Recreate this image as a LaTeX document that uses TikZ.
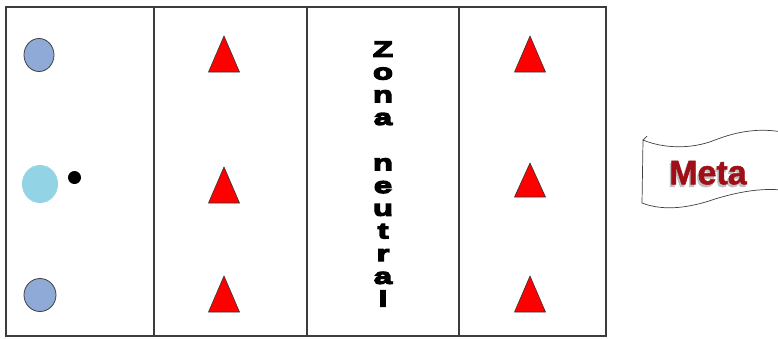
\documentclass[tikz,border=0pt]{standalone}
\usepackage{fontspec}
\setmainfont{Liberation Sans}
\newfontfamily\heavyfont[FakeBold=6,FakeStretch=1.5]{Liberation Sans Bold}
\newfontfamily\metafont[FakeBold=1.5]{Liberation Sans Bold}
\usepackage{tikz}

\definecolor{playerblue}{RGB}{143,170,214}
\definecolor{ballblue}{RGB}{146,211,230}
\definecolor{conered}{RGB}{255,0,0}
\definecolor{metared}{RGB}{160,14,24}
\definecolor{linegray}{RGB}{60,60,60}

\begin{document}
\begin{tikzpicture}[x=1pt, y=-1pt,
  zone/.style={draw=linegray, line width=1.4pt},
  cone/.style={draw=black!80, line width=0.6pt, fill=conered, line join=round}]
  \useasboundingbox (0,0) rectangle (778,338);
  \fill[white] (0,0) rectangle (778,338);
  % field with its four zones
  \draw[zone] (6,7) rectangle (606,336);
  \draw[zone] (154,7) -- (154,336);
  \draw[zone] (307,7) -- (307,336);
  \draw[zone] (459,7) -- (459,336);
  % players of the first zone
  \fill[playerblue, draw=black!75, line width=0.8pt] (39,55) ellipse (15 and 16.5);
  \fill[ballblue] (40,184) ellipse (18 and 19);
  \fill[black] (74.5,177.5) circle (6.5);
  \fill[playerblue, draw=black!75, line width=0.8pt] (40,295) ellipse (16 and 16.5);
  % cones
  \draw[cone] (224,36) -- (239.5,72) -- (208.5,72) -- cycle;
  \draw[cone] (224,167) -- (239.5,203) -- (208.5,203) -- cycle;
  \draw[cone] (224,276) -- (239.5,312) -- (208.5,312) -- cycle;
  \draw[cone] (530,36) -- (545.5,72) -- (514.5,72) -- cycle;
  \draw[cone] (530,163) -- (545.5,197) -- (514.5,197) -- cycle;
  \draw[cone] (530,276) -- (545.5,312) -- (514.5,312) -- cycle;
  % neutral zone label
  \node[font=\heavyfont\fontsize{22}{22.7}\selectfont, align=center, inner sep=0pt] (neutral) at (383,174)
    {Z\\o\\n\\a\\[22.7pt]n\\e\\u\\t\\r\\a\\l};
  % goal flag
  \draw[fill=white, draw=black!75, line width=0.7pt]
    (643,140) .. controls (662,148) and (690,150) .. (715,140)
    .. controls (738,131) and (760,128) .. (782,132) -- (782,190)
    .. controls (760,188) and (738,192) .. (715,199)
    .. controls (692,207) and (665,212) .. (642,203) -- cycle;
  \draw[black!75, line width=0.7pt] (643,140) -- (647,136);
  \node[font=\metafont\fontsize{34}{34}\selectfont, text=metared, inner sep=0pt] (meta) at (708,174)
    {\rlap{\kern-1.5pt\raisebox{-2.5pt}{\color{black!25}Meta}}Meta};
\end{tikzpicture}
\end{document}
